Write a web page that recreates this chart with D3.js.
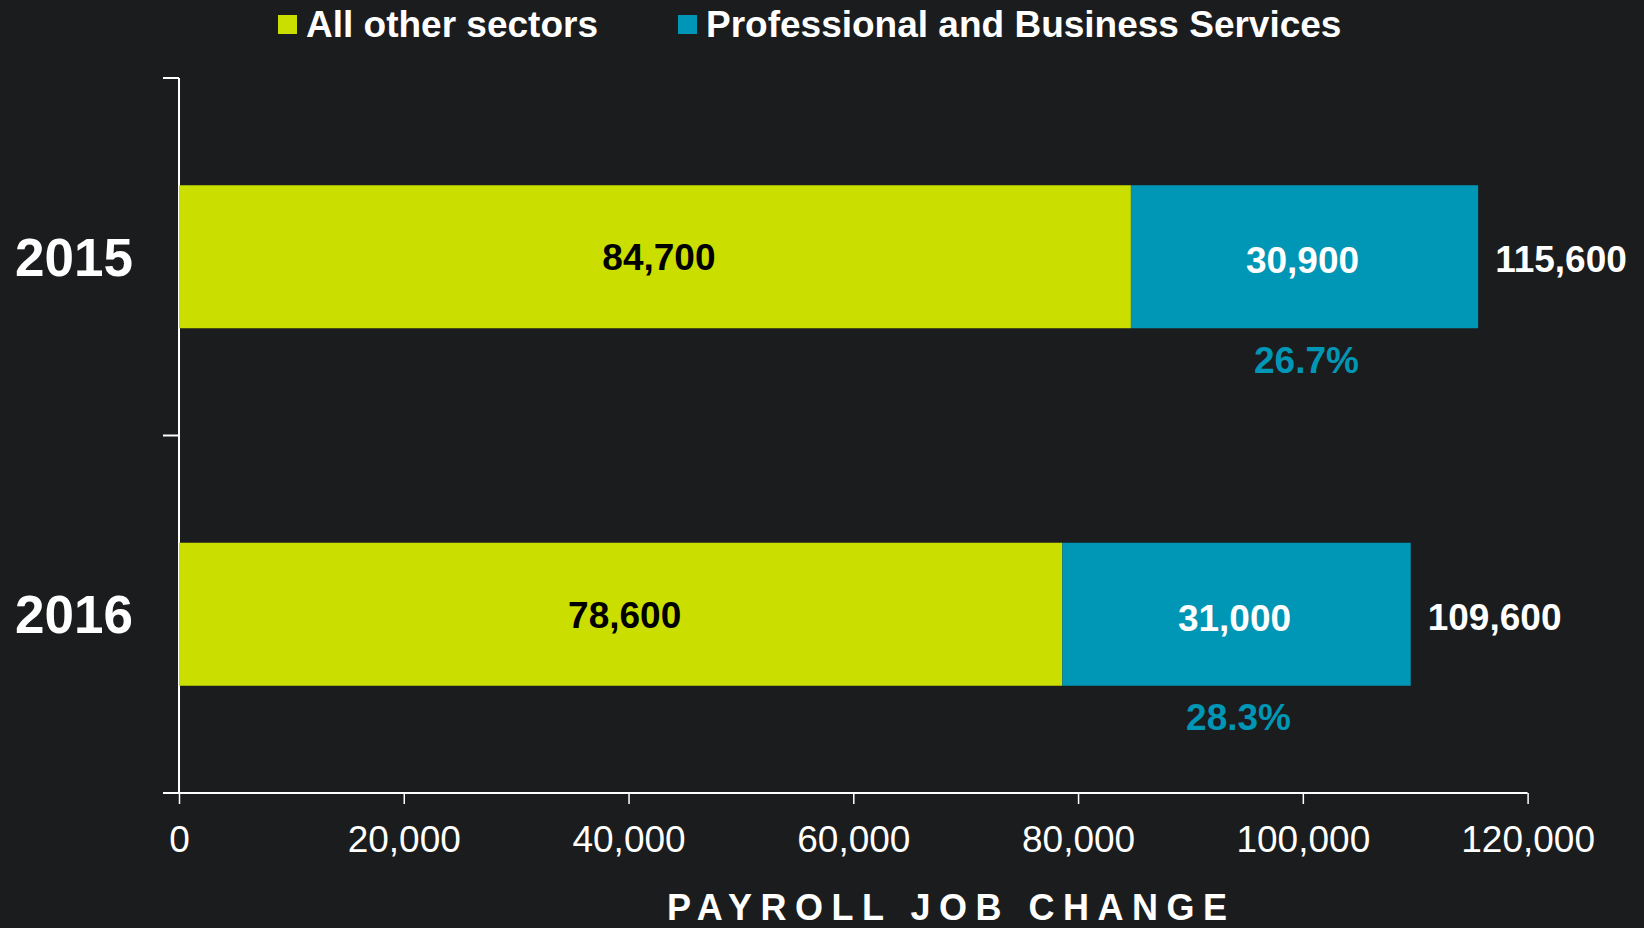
<!DOCTYPE html>
<html>
<head>
<meta charset="utf-8">
<script src="https://cdn.jsdelivr.net/npm/d3@7"></script>
<style>
  html, body { margin: 0; padding: 0; background: #1b1c1d; }
  svg { display: block; }
  text { font-family: "Liberation Sans", Arial, sans-serif; }
</style>
</head>
<body>
<svg id="chart" width="1644" height="928"></svg>
<script>
// Payroll job change by year, split into two sector groups
const years = ["2015", "2016"];
const otherSectors = [84700, 78600];
const profBusiness = [30900, 31000];
const seriesNames = ["All other sectors", "Professional and Business Services"];
const xTicks = [0, 20000, 40000, 60000, 80000, 100000, 120000];
const axisTitle = "PAYROLL JOB CHANGE";

const colors = { other: "#cadf00", prof: "#0096b5", bg: "#1b1c1d", axis: "#ffffff" };

const svg = d3.select("#chart");
svg.append("rect").attr("width", 1644).attr("height", 928).attr("fill", colors.bg);

const x = d3.scaleLinear().domain([0, 120000]).range([179, 1527.6]);
const y = d3.scaleBand().domain(years).range([78, 793]).paddingInner(0.6).paddingOuter(0.3);

const rows = years.map((yr, i) => ({
  year: yr,
  other: otherSectors[i],
  prof: profBusiness[i],
  total: otherSectors[i] + profBusiness[i]
}));

const fmt = d3.format(",");
const pct = d3.format(".1%");

// X axis
const xAxis = svg.append("g")
  .attr("transform", `translate(0,${y.range()[1]})`)
  .call(d3.axisBottom(x).tickValues(xTicks).tickFormat(fmt).tickSizeInner(11).tickSizeOuter(0).tickPadding(22));
xAxis.select(".domain").remove();
xAxis.append("line")
  .attr("x1", x(0) - 16).attr("x2", x(120000))
  .attr("stroke", colors.axis).attr("stroke-width", 2);
xAxis.selectAll(".tick line").attr("stroke", colors.axis).attr("stroke-width", 1.5);
xAxis.selectAll(".tick text")
  .attr("fill", colors.axis)
  .style("font-size", "37px")
  .attr("dy", "0.71em");

// Y axis with boundary ticks between the year bands
const yTop = y.range()[0], yBottom = y.range()[1];
const boundaries = [yTop, yTop + y.step(), yBottom];
const yAxis = svg.append("g");
yAxis.append("line")
  .attr("x1", x(0)).attr("x2", x(0))
  .attr("y1", yTop).attr("y2", yBottom)
  .attr("stroke", colors.axis).attr("stroke-width", 2);
yAxis.selectAll("line.ytick").data(boundaries).join("line")
  .attr("class", "ytick")
  .attr("x1", x(0) - 16).attr("x2", x(0))
  .attr("y1", d => d).attr("y2", d => d)
  .attr("stroke", colors.axis).attr("stroke-width", 2);

// Year labels
svg.selectAll("text.year").data(rows).join("text")
  .attr("class", "year")
  .attr("x", 133)
  .attr("y", d => y(d.year) + y.bandwidth() / 2)
  .attr("dy", "0.36em")
  .attr("text-anchor", "end")
  .attr("fill", "#ffffff")
  .style("font-size", "53px")
  .style("font-weight", "bold")
  .text(d => d.year);

// Bars
const bar = svg.selectAll("g.bar").data(rows).join("g").attr("class", "bar");
bar.append("rect")
  .attr("x", x(0))
  .attr("y", d => y(d.year))
  .attr("width", d => x(d.other) - x(0))
  .attr("height", y.bandwidth())
  .attr("fill", colors.other);
bar.append("rect")
  .attr("x", d => x(d.other))
  .attr("y", d => y(d.year))
  .attr("width", d => x(d.total) - x(d.other))
  .attr("height", y.bandwidth())
  .attr("fill", colors.prof);

// Segment value labels
bar.append("text")
  .attr("x", d => (x(0) + x(d.other)) / 2 + 4)
  .attr("y", d => y(d.year) + y.bandwidth() / 2)
  .attr("dy", "0.36em")
  .attr("text-anchor", "middle")
  .attr("fill", "#000000")
  .style("font-size", "37px").style("font-weight", "bold")
  .text(d => fmt(d.other));
bar.append("text")
  .attr("x", d => (x(d.other) + x(d.total)) / 2 - 2)
  .attr("y", d => y(d.year) + y.bandwidth() / 2 + 3)
  .attr("dy", "0.36em")
  .attr("text-anchor", "middle")
  .attr("fill", "#ffffff")
  .style("font-size", "37px").style("font-weight", "bold")
  .text(d => fmt(d.prof));

// Totals to the right of each bar
bar.append("text")
  .attr("x", d => x(d.total) + 17)
  .attr("y", d => y(d.year) + y.bandwidth() / 2 + 2)
  .attr("dy", "0.36em")
  .attr("text-anchor", "start")
  .attr("fill", "#ffffff")
  .style("font-size", "37px").style("font-weight", "bold")
  .text(d => fmt(d.total));

// Share of professional and business services beneath each bar
bar.append("text")
  .attr("x", d => (x(d.other) + x(d.total)) / 2 + 2)
  .attr("y", d => y(d.year) + y.bandwidth() + 31)
  .attr("dy", "0.36em")
  .attr("text-anchor", "middle")
  .attr("fill", colors.prof)
  .style("font-size", "37px").style("font-weight", "bold")
  .text(d => pct(d.prof / d.total));

// Axis title
svg.append("text")
  .attr("x", 667)
  .attr("y", 920)
  .attr("fill", "#ffffff")
  .style("font-size", "36px").style("font-weight", "bold")
  .style("letter-spacing", "8.5px")
  .text(axisTitle);

// Legend
const legendItems = [
  { name: seriesNames[0], color: colors.other, sx: 278, tx: 306 },
  { name: seriesNames[1], color: colors.prof, sx: 678, tx: 706 }
];
const lg = svg.selectAll("g.legend").data(legendItems).join("g").attr("class", "legend");
lg.append("rect")
  .attr("x", d => d.sx).attr("y", 15)
  .attr("width", 19).attr("height", 19)
  .attr("fill", d => d.color);
lg.append("text")
  .attr("x", d => d.tx).attr("y", 37)
  .attr("fill", "#ffffff")
  .style("font-size", "37px").style("font-weight", "bold")
  .text(d => d.name);
</script>
</body>
</html>
